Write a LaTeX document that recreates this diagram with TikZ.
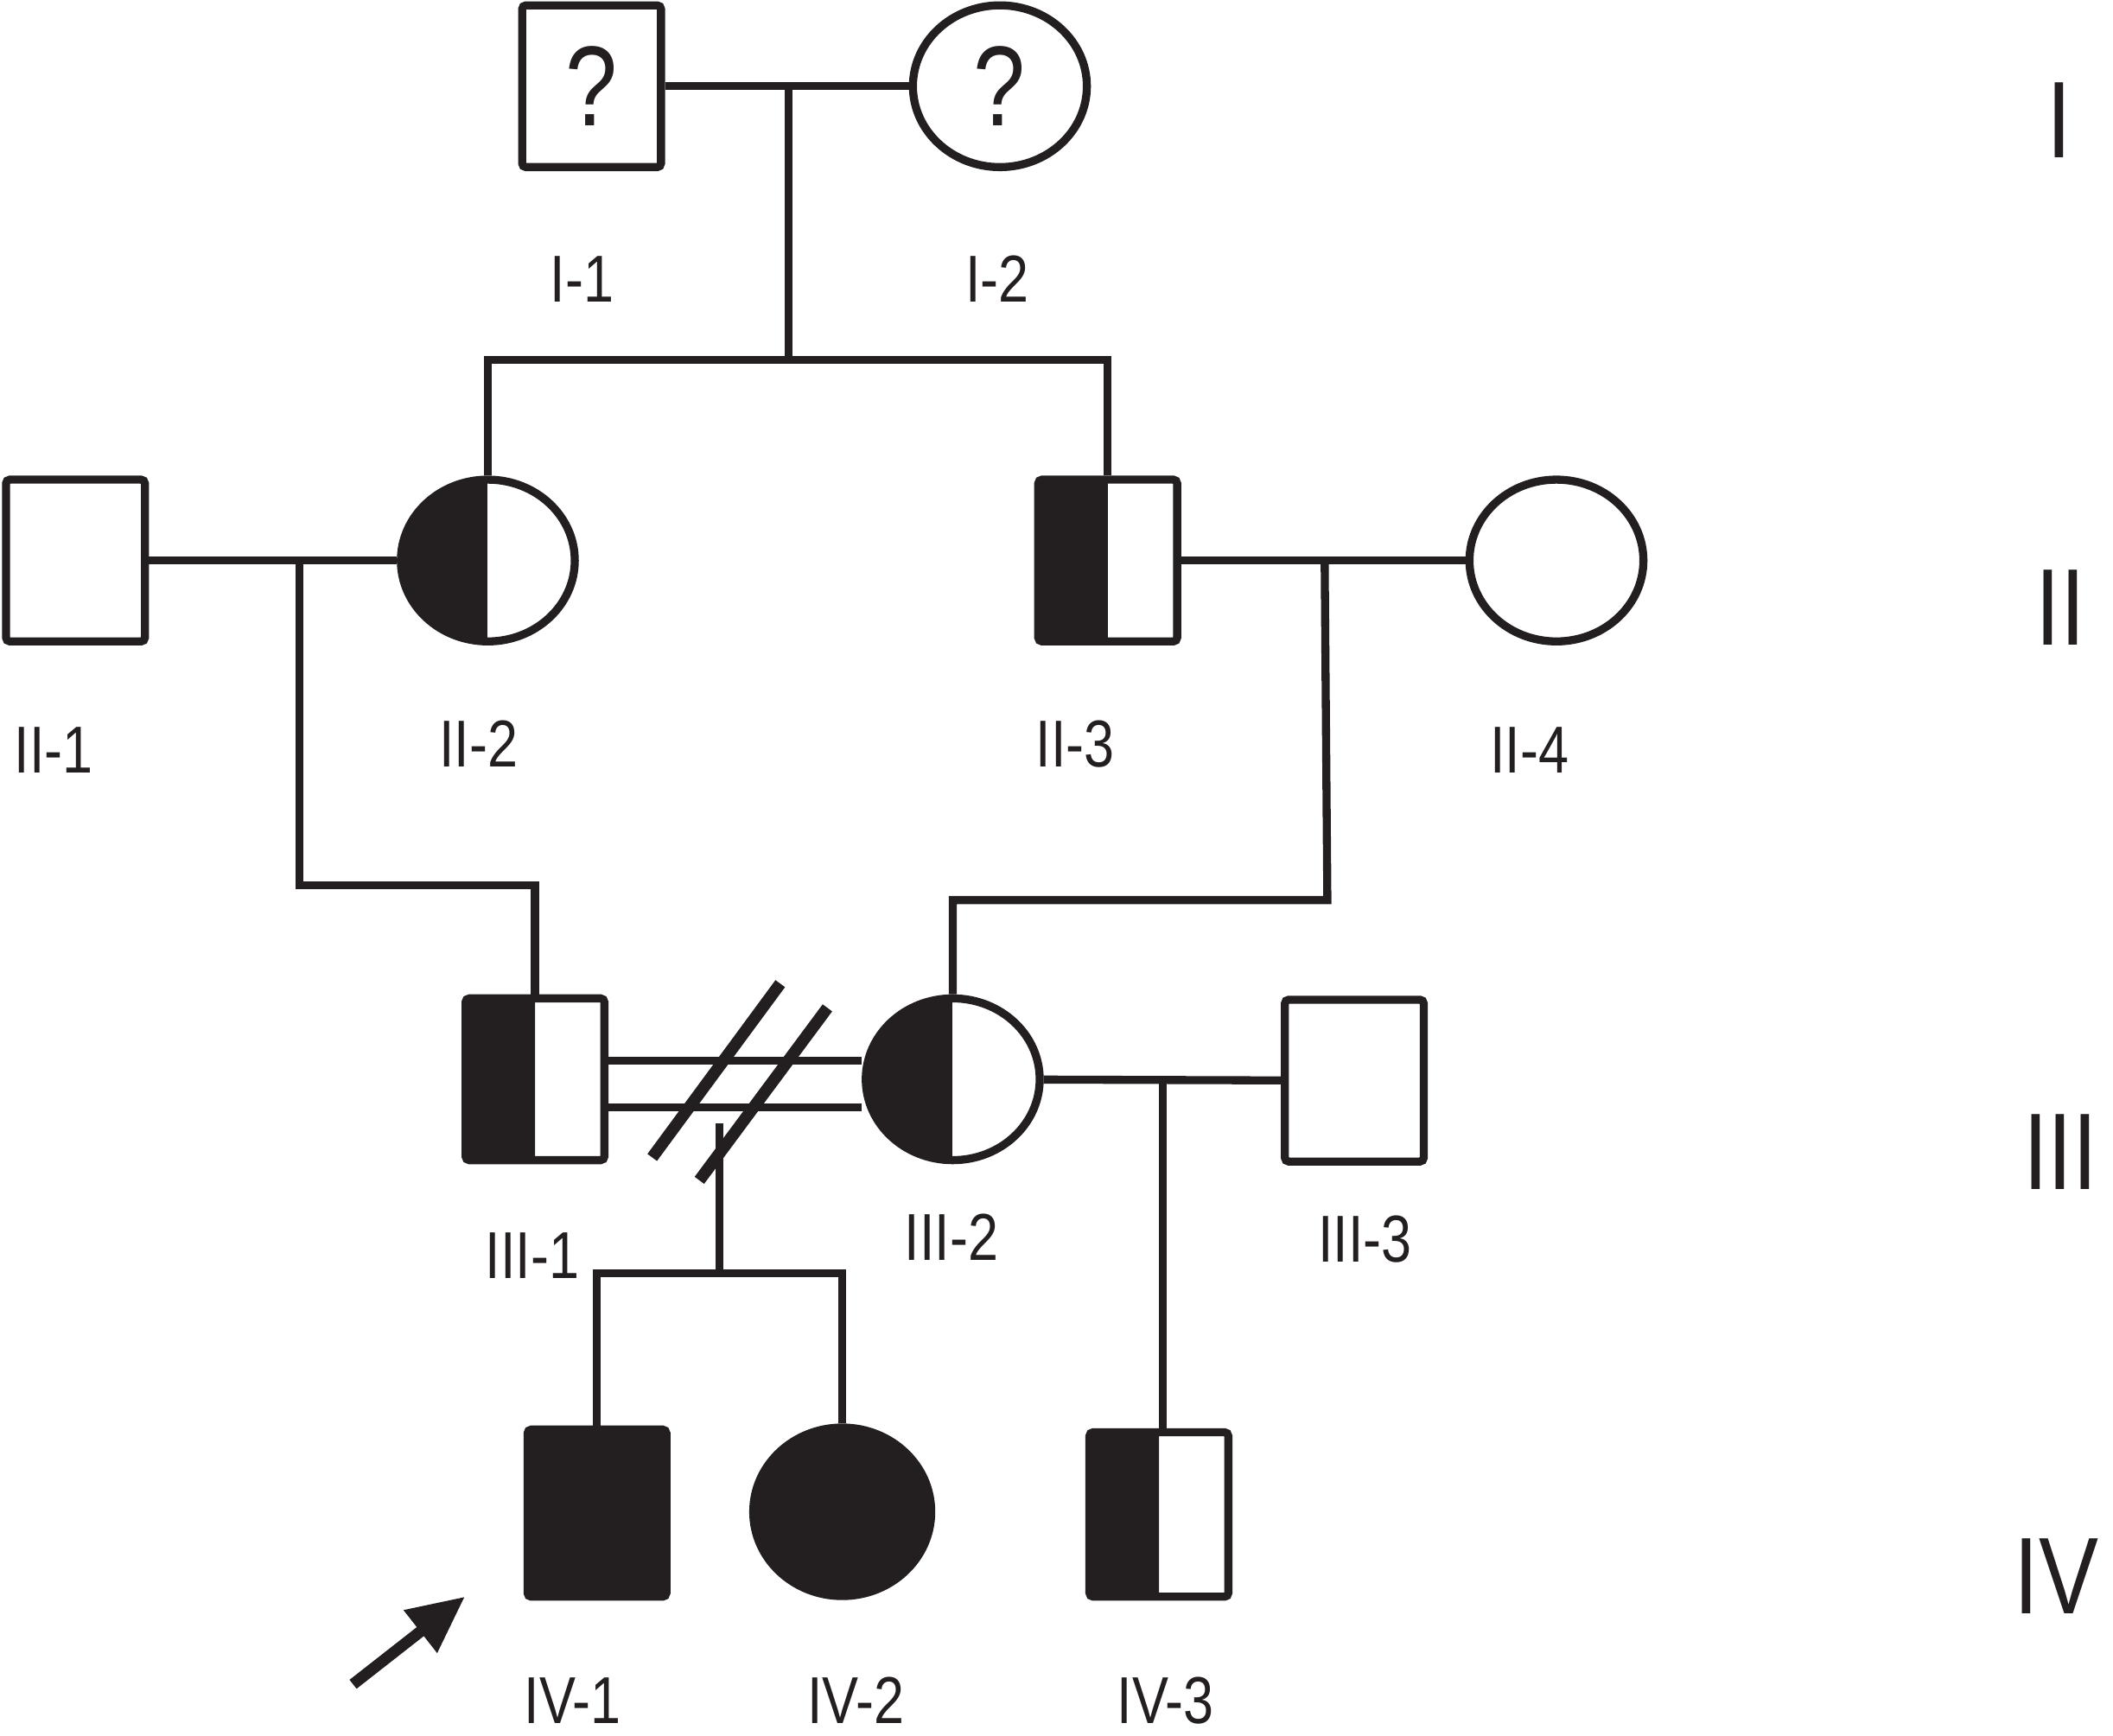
\documentclass[tikz,border=0pt]{standalone}
\usepackage{fontspec}
\usepackage{tikz}
\usetikzlibrary{arrows.meta,calc,shapes.geometric}
\newfontfamily\pedfont[FakeStretch=0.82]{Liberation Sans}
\definecolor{ink}{HTML}{231F20}
\tikzset{
  male/.style={draw=ink, rectangle, rounded corners=0.8pt, line width=1.7pt,
               minimum width=1.03cm, minimum height=1.20cm, inner sep=0pt,
               text=ink, font=\pedfont\fontsize{24}{26}\selectfont},
  female/.style={draw=ink, ellipse, line width=1.7pt,
                 minimum width=1.29cm, minimum height=1.20cm, inner sep=0pt,
                 text=ink, font=\pedfont\fontsize{24}{26}\selectfont},
  affected/.style={fill=ink},
  carrier/.style={path picture={\fill[ink] (path picture bounding box.south west)
                  rectangle (path picture bounding box.north);}},
  link/.style={draw=ink, line width=1.7pt},
  slash/.style={draw=ink, line width=2.5pt},
  pointer/.style={-{Triangle[length=0.42cm,width=0.38cm]}, draw=ink, fill=ink, line width=2.4pt},
  idlabel/.style={text=ink, inner sep=0pt, font=\pedfont\fontsize{14}{16}\selectfont},
  genlabel/.style={text=ink, inner sep=0pt, font=\pedfont\fontsize{23}{26}\selectfont}
}

\begin{document}
\begin{tikzpicture}[x=0.01cm,y=-0.01cm]
  \useasboundingbox (0,0) rectangle (1568,1288);

  % generation I
  \node[male]   (i1) at (439,64) {?};
  \node[female] (i2) at (742,64) {?};
  \node[idlabel] (li1) at (432,207) {I-1};
  \node[idlabel] (li2) at (740,207) {I-2};

  % generation II
  \node[male]           (ii1) at (56,416)   {};
  \node[female,carrier] (ii2) at (362,416)  {};
  \node[male,carrier]   (ii3) at (822,416)  {};
  \node[female]         (ii4) at (1155,416) {};
  \node[idlabel] (lii1) at (40,557)   {II-1};
  \node[idlabel] (lii2) at (355,552)  {II-2};
  \node[idlabel] (lii3) at (798,552)  {II-3};
  \node[idlabel] (lii4) at (1135,557) {II-4};

  % generation III
  \node[male,carrier]   (iii1) at (397,801)  {};
  \node[female,carrier] (iii2) at (707,801)  {};
  \node[male]           (iii3) at (1005,802) {};
  \node[idlabel] (liii1) at (395,932)  {III-1};
  \node[idlabel] (liii2) at (706,918)  {III-2};
  \node[idlabel] (liii3) at (1013,920) {III-3};

  % generation IV
  \node[male,affected,minimum height=1.24cm]   (iv1) at (443,1123) {};
  \node[female,affected,minimum height=1.25cm,minimum width=1.32cm] (iv2) at (625,1122) {};
  \node[male,carrier,minimum height=1.22cm]    (iv3) at (860,1124) {};
  \node[idlabel] (liv1) at (425,1262) {IV-1};
  \node[idlabel] (liv2) at (635,1262) {IV-2};
  \node[idlabel] (liv3) at (865,1262) {IV-3};

  % generation numbers
  \node[genlabel] (gi)   at (1528,89)   {I};
  \node[genlabel] (gii)  at (1529,451)  {II};
  \node[genlabel] (giii) at (1529,855)  {III};
  \node[genlabel] (giv)  at (1526,1170) {IV};

  % junction points
  \coordinate (m1) at (585,64);
  \coordinate (s1) at (585,267);
  \coordinate (m2) at (222,416);
  \coordinate (k2) at (222,657);
  \coordinate (m3) at (983,416);
  \coordinate (k3) at (985,668);
  \coordinate (m4) at (534,834);
  \coordinate (s4) at (534,945);
  \coordinate (m5) at (863,802);

  % matings and lines of descent
  \draw[link] (i1) -- (i2);
  \draw[link] (m1) -- (s1);
  \draw[link] (ii2.north) |- (s1) -| (ii3.north);
  \draw[link] (ii1) -- (ii2);
  \draw[link] (m2) -- (k2) -| (iii1.north);
  \draw[link] (ii3) -- (ii4);
  \draw[link] (m3) -- (k3) -| (iii2.north);
  \draw[link] ([yshift=0.14cm]iii1.east) -- ([yshift=0.14cm]iii2.west);
  \draw[link] ([yshift=-0.21cm]iii1.east) -- ([yshift=-0.21cm]iii2.west);
  \draw[link] (m4) -- (s4);
  \draw[link] (iv1.north) |- (s4) -| (iv2.north);
  \draw[link] (iii2) -- (iii3);
  \draw[link] (m5) -- (m5 |- iv3.north);

  % separation marks
  \draw[slash] (484,859) -- (579,730);
  \draw[slash] (519,876) -- (614,748);

  % proband
  \coordinate (pb) at (262,1250);
  \coordinate (pt) at (345,1185);
  \draw[pointer] (pb) -- (pt);
\end{tikzpicture}
\end{document}
